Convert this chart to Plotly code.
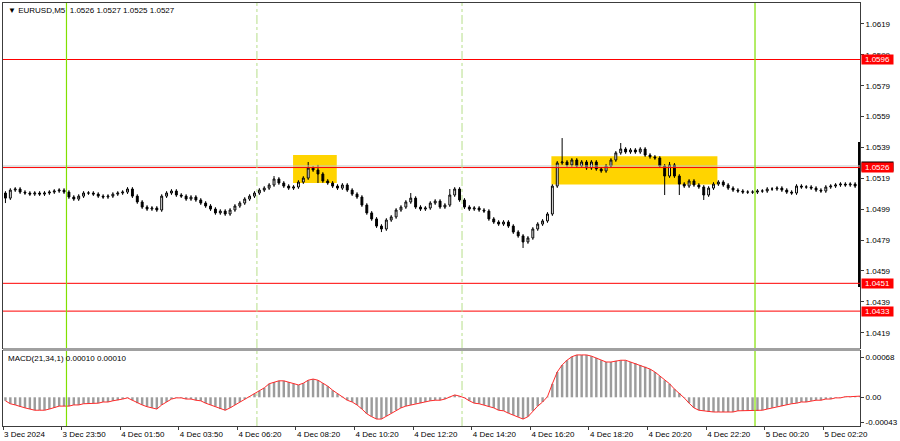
import plotly.graph_objects as go

# ---------------- data ----------------
symbol_title = "▼ EURUSD,M5  1.0526 1.0527 1.0525 1.0527"
macd_title = "MACD(21,34,1) 0.00010 0.00010"

first_open = 1.05095
closes = [
    1.05062, 1.05114, 1.05121, 1.05101, 1.05095, 1.05088, 1.05095, 1.05088, 1.05095, 1.05101,
    1.05108, 1.05114, 1.05101, 1.05069, 1.05056, 1.05075, 1.05095, 1.05095, 1.05088, 1.05075,
    1.05069, 1.05075, 1.05088, 1.05095, 1.05101, 1.05121, 1.05075, 1.05037, 1.05004, 1.04991,
    1.04998, 1.04985, 1.05075, 1.05095, 1.05108, 1.05082, 1.05075, 1.05056, 1.05069, 1.05050,
    1.05030, 1.05011, 1.04991, 1.04966, 1.04978, 1.04959, 1.04985, 1.05011, 1.05030, 1.05056,
    1.05075, 1.05095, 1.05114, 1.05127, 1.05147, 1.05186, 1.05160, 1.05140, 1.05127, 1.05134,
    1.05166, 1.05192, 1.05257, 1.05244, 1.05218, 1.05173, 1.05160, 1.05140, 1.05127, 1.05147,
    1.05114, 1.05088, 1.05069, 1.05017, 1.04966, 1.04927, 1.04881, 1.04862, 1.04920, 1.04940,
    1.04985, 1.05004, 1.05037, 1.05062, 1.05004, 1.04991, 1.04998, 1.05030, 1.05043, 1.05004,
    1.05017, 1.05082, 1.05121, 1.05050, 1.05004, 1.04991, 1.04998, 1.04985, 1.04978, 1.04927,
    1.04907, 1.04894, 1.04907, 1.04881, 1.04842, 1.04817, 1.04778, 1.04804, 1.04862, 1.04894,
    1.04914, 1.04959, 1.05140, 1.05290, 1.05296, 1.05277, 1.05309, 1.05270, 1.05296, 1.05257,
    1.05296, 1.05251, 1.05238, 1.05270, 1.05309, 1.05355, 1.05380, 1.05361, 1.05374, 1.05361,
    1.05380, 1.05341, 1.05329, 1.05322, 1.05270, 1.05205, 1.05277, 1.05205, 1.05153, 1.05140,
    1.05173, 1.05147, 1.05134, 1.05082, 1.05127, 1.05153, 1.05166, 1.05147, 1.05127, 1.05114,
    1.05108, 1.05101, 1.05101, 1.05101, 1.05108, 1.05108, 1.05121, 1.05121, 1.05127, 1.05114,
    1.05101, 1.05095, 1.05140, 1.05134, 1.05134, 1.05127, 1.05114, 1.05108, 1.05134, 1.05140,
    1.05147, 1.05153, 1.05147, 1.05153, 1.05140, 1.05147,
]
spike_highs = {55: 1.05205, 62: 1.05296, 64: 1.05277, 83: 1.05095, 91: 1.05121,
               114: 1.05451, 126: 1.05419, 136: 1.05296}
spike_lows = {0: 1.05030, 64: 1.05160, 77: 1.04842, 106: 1.04739,
              135: 1.05082, 138: 1.05082, 143: 1.05050}
WICK = 0.00024

macd_values = [
    -0.00006, -0.00011, -0.00013, -0.00016, -0.00018, -0.00020, -0.00022, -0.00022, -0.00022, -0.00020,
    -0.00018, -0.00015, -0.00015, -0.00015, -0.00013, -0.00013, -0.00011, -0.00011, -0.00010, -0.00010,
    -0.00008, -0.00008, -0.00006, -0.00005, -0.00003, -0.00001, -0.00005, -0.00010, -0.00013, -0.00016,
    -0.00018, -0.00020, -0.00013, -0.00008, -0.00003, -0.00001, -0.00001, -0.00003, -0.00003, -0.00005,
    -0.00006, -0.00010, -0.00013, -0.00016, -0.00020, -0.00022, -0.00018, -0.00013, -0.00008, -0.00003,
    0.00001, 0.00006, 0.00011, 0.00016, 0.00023, 0.00026, 0.00028, 0.00028, 0.00026, 0.00023,
    0.00021, 0.00024, 0.00029, 0.00031, 0.00029, 0.00024, 0.00019, 0.00012, 0.00006, 0.00001,
    -0.00005, -0.00008, -0.00013, -0.00020, -0.00028, -0.00033, -0.00037, -0.00037, -0.00032, -0.00027,
    -0.00022, -0.00018, -0.00015, -0.00013, -0.00011, -0.00010, -0.00008, -0.00006, -0.00005, -0.00005,
    -0.00003, 0.00001, 0.00004, 0.00002, -0.00001, -0.00006, -0.00010, -0.00011, -0.00013, -0.00016,
    -0.00018, -0.00022, -0.00023, -0.00027, -0.00030, -0.00033, -0.00037, -0.00033, -0.00023, -0.00015,
    -0.00008, 0.00001, 0.00023, 0.00043, 0.00055, 0.00063, 0.00069, 0.00072, 0.00072, 0.00072,
    0.00070, 0.00067, 0.00063, 0.00060, 0.00060, 0.00062, 0.00063, 0.00063, 0.00060, 0.00058,
    0.00055, 0.00052, 0.00048, 0.00043, 0.00036, 0.00029, 0.00023, 0.00014, 0.00007, -0.00001,
    -0.00010, -0.00018, -0.00022, -0.00023, -0.00025, -0.00025, -0.00025, -0.00025, -0.00025, -0.00025,
    -0.00023, -0.00023, -0.00023, -0.00023, -0.00023, -0.00022, -0.00020, -0.00018, -0.00016, -0.00015,
    -0.00013, -0.00011, -0.00010, -0.00008, -0.00008, -0.00006, -0.00005, -0.00005, -0.00003, -0.00003,
    -0.00001, -0.00001, 0.00001, 0.00001, 0.00002, 0.00002,
]

price_ticks = [1.0619, 1.0599, 1.0579, 1.0559, 1.0539, 1.0519, 1.0499, 1.0479, 1.0459, 1.0439, 1.0419]
price_tick_text = ["1.0619", "1.0599", "1.0579", "1.0559", "1.0539", "1.0519", "1.0499",
                   "1.0479", "1.0459", "1.0439", "1.0419"]
level_prices = [1.0596, 1.0526, 1.0451, 1.0433]
level_text = ["1.0596", "1.0526", "1.0451", "1.0433"]
current_price = 1.0527

macd_ticks = [0.00068, 0.0, -0.00043]
macd_tick_text = ["0.00068", "0.00", "-0.00043"]

time_tick_bars = [0, 24, 48, 72, 96, 120, 144, 168, 192, 216, 240, 264, 288, 312, 336]
time_tick_labels = ["3 Dec 2024", "3 Dec 23:50", "4 Dec 01:50", "4 Dec 03:50", "4 Dec 06:20",
                    "4 Dec 08:20", "4 Dec 10:20", "4 Dec 12:20", "4 Dec 14:20", "4 Dec 16:20",
                    "4 Dec 18:20", "4 Dec 20:20", "4 Dec 22:20", "5 Dec 00:20", "5 Dec 02:20"]

day_separators = [26, 308]
session_markers = [104, 188]

# yellow zones: (bar_start, bar_end, price_top, price_bottom)
zones = [(118.8, 136.7, 1.05341, 1.05160), (224.6, 292.6, 1.05334, 1.05150)]

edge_bar_high = 1.05426
edge_bar_low = 1.04486

x_range = [0, 351]
price_range = [1.04091, 1.06326]
macd_range = [-0.000488, 0.000787]

# ---------------- build ----------------
N = min(len(closes), len(macd_values))
closes = closes[:N]
macd_values = macd_values[:N]
bar_x = [2 * j + 1 for j in range(N)]
opens = [first_open] + closes[:-1]
highs = [max(max(o, c) + WICK * 0.5, spike_highs.get(j, 0.0)) for j, (o, c) in enumerate(zip(opens, closes))]
lows = [min(min(o, c) - WICK * 0.5, spike_lows.get(j, 9.0)) for j, (o, c) in enumerate(zip(opens, closes))]

FRAME = "#3c3c3c"
FONT = "Liberation Sans, Arial, sans-serif"

fig = go.Figure()

fig.add_trace(go.Candlestick(
    x=bar_x, open=opens, high=highs, low=lows, close=closes,
    increasing=dict(line=dict(color="black", width=1), fillcolor="white"),
    decreasing=dict(line=dict(color="black", width=1), fillcolor="black"),
    whiskerwidth=0, xaxis="x", yaxis="y", hoverinfo="skip",
))

fig.add_trace(go.Scatter(
    x=[x_range[1] - 0.3, x_range[1] - 0.3], y=[edge_bar_high, edge_bar_low],
    mode="lines", line=dict(color="black", width=2.5), xaxis="x", yaxis="y", hoverinfo="skip",
))

fig.add_trace(go.Bar(
    x=bar_x, y=macd_values, width=1.0, marker=dict(color="#9c9c9c", line=dict(width=0)),
    xaxis="x2", yaxis="y2", hoverinfo="skip",
))
fig.add_trace(go.Scatter(
    x=bar_x, y=macd_values, mode="lines", line=dict(color="#ff2a2a", width=1),
    xaxis="x2", yaxis="y2", hoverinfo="skip",
))

shapes = []
for (x0, x1, ytop, ybot) in zones:
    shapes.append(dict(type="rect", xref="x", yref="y", x0=x0, x1=x1, y0=ybot, y1=ytop,
                       fillcolor="#ffd400", line=dict(width=0), layer="below"))
shapes.append(dict(type="line", xref="x domain", yref="y", x0=0, x1=1, y0=current_price, y1=current_price,
                   line=dict(color="#c4c4c4", width=1)))
for p in level_prices:
    shapes.append(dict(type="line", xref="x domain", yref="y", x0=0, x1=1, y0=p, y1=p,
                       line=dict(color="#ff0000", width=1)))
for xd in day_separators:
    for yr in ["y domain", "y2 domain"]:
        shapes.append(dict(type="line", xref="x", yref=yr, x0=xd, x1=xd, y0=0, y1=1,
                           line=dict(color="#80e000", width=1.2)))
for xd in session_markers:
    for yr in ["y domain", "y2 domain"]:
        shapes.append(dict(type="line", xref="x", yref=yr, x0=xd, x1=xd, y0=0, y1=1,
                           line=dict(color="#b6de8a", width=1, dash="dashdot")))

main_bottom = 0.1844
macd_top = 0.1773
shapes.append(dict(type="rect", xref="paper", yref="paper", x0=0, x1=1, y0=macd_top, y1=main_bottom,
                   fillcolor="#a0a0a0", line=dict(width=0)))

annotations = [
    dict(xref="paper", yref="paper", x=0, y=1, xanchor="left", yanchor="top", xshift=3, yshift=-1,
         text=symbol_title, showarrow=False, font=dict(size=8, color="black", family=FONT)),
    dict(xref="paper", yref="y2 domain", x=0, y=1, xanchor="left", yanchor="top", xshift=3, yshift=-1,
         text=macd_title, showarrow=False, font=dict(size=8, color="black", family=FONT)),
    dict(xref="paper", yref="y", x=1, y=current_price, xanchor="left", yanchor="middle", xshift=1,
         text="1.0527", showarrow=False, bgcolor="black", borderpad=0, width=31,
         font=dict(size=8, color="white", family=FONT)),
]
for p, t in zip(level_prices, level_text):
    annotations.append(dict(xref="paper", yref="y", x=1, y=p, xanchor="left", yanchor="middle", xshift=1,
                            text=t, showarrow=False, bgcolor="#ff0000", borderpad=0, width=31,
                            font=dict(size=8, color="white", family=FONT)))

axis_common = dict(showgrid=False, zeroline=False, showline=True, mirror=True,
                   linecolor=FRAME, linewidth=1)

fig.update_layout(
    width=900, height=441,
    margin=dict(l=2, r=35, t=3, b=15),
    paper_bgcolor="white", plot_bgcolor="white",
    showlegend=False, hovermode=False, boxgap=0.45,
    font=dict(family=FONT, size=8, color="black"),
    xaxis=dict(domain=[0, 1], range=x_range, anchor="y", showticklabels=False, ticks="",
               rangeslider=dict(visible=False), **axis_common),
    yaxis=dict(domain=[main_bottom, 1], range=price_range, side="right", anchor="x",
               tickvals=price_ticks, ticktext=price_tick_text, ticks="outside", ticklen=3,
               tickcolor=FRAME, tickfont=dict(size=8, color="black"), **axis_common),
    xaxis2=dict(domain=[0, 1], range=x_range, anchor="y2", tickvals=time_tick_bars,
                ticktext=time_tick_labels, ticks="outside", ticklen=3, tickcolor=FRAME,
                ticklabelposition="outside right", tickfont=dict(size=8, color="black"),
                **axis_common),
    yaxis2=dict(domain=[0, macd_top], range=macd_range, side="right", anchor="x2",
                tickvals=macd_ticks, ticktext=macd_tick_text, ticks="outside", ticklen=3,
                tickcolor=FRAME, tickfont=dict(size=8, color="black"), **axis_common),
    shapes=shapes, annotations=annotations,
)

fig.write_html(
    "out.html",
    config={"displayModeBar": False, "staticPlot": True},
    post_script="document.body.style.margin='0px';document.body.style.overflow='hidden';",
)
